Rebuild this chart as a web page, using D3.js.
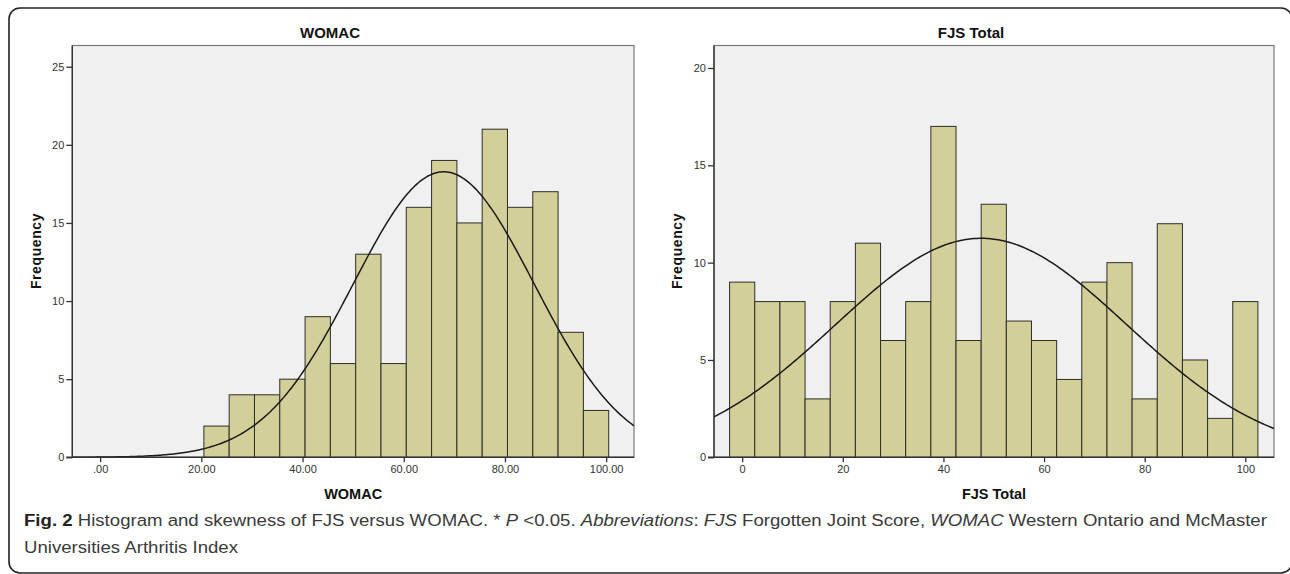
<!DOCTYPE html>
<html><head><meta charset="utf-8">
<script src="https://cdn.jsdelivr.net/npm/d3@7"></script>
<style>body{margin:0;background:#fff;} svg{display:block}</style>
</head><body>
<svg id="c" width="1290" height="574"></svg>
<script>
// ---- data ----
const womacCenters = [23,28,33,38,43,48,53,58,63,68,73,78,83,88,93,98];
const womacCounts  = [2,4,4,5,9,6,13,6,16,19,15,21,16,17,8,3];
const womacFit = {mean: 67.9, sd: 17.9, n: 164};
const womacXTicks = [0,20,40,60,80,100];
const womacXLabels = [".00","20.00","40.00","60.00","80.00","100.00"];
const womacYTicks = [0,5,10,15,20,25];

const fjsCenters = [0,5,10,15,20,25,30,35,40,45,50,55,60,65,70,75,80,85,90,95,100];
const fjsCounts  = [9,8,8,3,8,11,6,8,17,6,13,7,6,4,9,10,3,12,5,2,8];
const fjsFit = {mean: 47.5, sd: 28.9, n: 163};
const fjsXTicks = [0,20,40,60,80,100];
const fjsXLabels = ["0","20","40","60","80","100"];
const fjsYTicks = [0,5,10,15,20];

const binWidth = 5;

const svg = d3.select("#c");
const FONT = "'Liberation Sans', Arial, sans-serif";

// outer frame (right edge runs off the picture)
svg.append("rect").attr("x",9).attr("y",8).attr("width",1283).attr("height",565)
  .attr("rx",11).attr("fill","none").attr("stroke","#222").attr("stroke-width",1.6);

function panel(cfg){
  const x = d3.scaleLinear().domain(cfg.xDomain).range(cfg.xRange);
  const y = d3.scaleLinear().domain([0, cfg.yRef]).range([457.3, cfg.yRefPx]);
  const top = 45.5, bottom = 457.3;
  const left = cfg.xRange[0], right = cfg.xRange[1];
  const g = svg.append("g");
  const clipId = "clip" + cfg.id;
  svg.append("clipPath").attr("id", clipId).append("rect")
    .attr("x", left).attr("y", top).attr("width", right-left).attr("height", bottom-top);

  g.append("rect").attr("x",left).attr("y",top).attr("width",right-left).attr("height",bottom-top)
    .attr("fill","#f0f0f0").attr("stroke","#7a7a7a").attr("stroke-width",1.2);

  g.selectAll("rect.bar").data(cfg.centers).join("rect").attr("class","bar")
    .attr("x", d => x(d - binWidth/2))
    .attr("width", d => x(d + binWidth/2) - x(d - binWidth/2))
    .attr("y", (d,i) => y(cfg.counts[i]))
    .attr("height", (d,i) => y(0) - y(cfg.counts[i]))
    .attr("fill","#d3cf98").attr("stroke","#2e2e2a").attr("stroke-width",1);

  // fitted normal curve from the fit parameters
  const f = cfg.fit;
  const xs = d3.range(0, 301).map(i => cfg.xDomain[0] + (cfg.xDomain[1]-cfg.xDomain[0]) * i/300);
  const dens = xv => f.n * binWidth / (f.sd * Math.sqrt(2*Math.PI)) * Math.exp(-0.5*((xv-f.mean)/f.sd)**2);
  g.append("path").attr("clip-path", `url(#${clipId})`)
    .attr("d", d3.line().x(d => x(d)).y(d => y(dens(d)))(xs))
    .attr("fill","none").attr("stroke","#1a1a1a").attr("stroke-width",1.5);

  // axes
  const ya = d3.axisLeft(y).tickValues(cfg.yTicks).tickSize(6).tickPadding(2).tickFormat(d3.format("d"));
  const yg = g.append("g").attr("transform",`translate(${left},0)`).call(ya);
  const xa = d3.axisBottom(x).tickValues(cfg.xTicks).tickSize(5).tickPadding(3).tickFormat((d,i)=>cfg.xLabels[i]);
  const xg = g.append("g").attr("transform",`translate(0,${bottom})`).call(xa);
  [yg,xg].forEach(a => {
    a.select(".domain").remove();
    a.selectAll("line").attr("stroke","#333").attr("stroke-width",1.3);
    a.selectAll("text").attr("fill","#333").style("font-family",FONT).style("font-size","11px");
  });
  g.append("line").attr("x1",left-6).attr("x2",right).attr("y1",bottom).attr("y2",bottom)
    .attr("stroke","#333").attr("stroke-width",1.4);
  g.append("line").attr("x1",left).attr("x2",left).attr("y1",top).attr("y2",bottom)
    .attr("stroke","#333").attr("stroke-width",1.4);

  g.append("text").attr("x",cfg.titleX).attr("y",38).attr("text-anchor","middle")
    .style("font-family",FONT).style("font-weight","bold").style("font-size","15px").attr("fill","#111")
    .text(cfg.title);
  g.append("text").attr("x",(left+right)/2).attr("y",499).attr("text-anchor","middle")
    .style("font-family",FONT).style("font-weight","bold").style("font-size","14.5px").attr("fill","#111")
    .text(cfg.xTitle);
  g.append("text").attr("transform",`translate(${cfg.yTitleX},251) rotate(-90)`).attr("text-anchor","middle")
    .style("font-family",FONT).style("font-weight","bold").style("font-size","14px").attr("fill","#111")
    .style("letter-spacing","0.6px")
    .text("Frequency");
}

panel({id:"a", centers:womacCenters, counts:womacCounts, fit:womacFit,
  xDomain:[-5.5,105.5], xRange:[72.3,634], yRef:25, yRefPx:66.7,
  xTicks:womacXTicks, xLabels:womacXLabels, yTicks:womacYTicks,
  title:"WOMAC", titleX:330, xTitle:"WOMAC", yTitleX:41});
panel({id:"b", centers:fjsCenters, counts:fjsCounts, fit:fjsFit,
  xDomain:[-5.6,105.7], xRange:[714,1274], yRef:20, yRefPx:68,
  xTicks:fjsXTicks, xLabels:fjsXLabels, yTicks:fjsYTicks,
  title:"FJS Total", titleX:971, xTitle:"FJS Total", yTitleX:682});

// caption (condensed by horizontal scaling to the reference line width)
const CAP = "'Liberation Sans', Arial, sans-serif";
const line1 = [
  {t:"Fig. 2", w:"bold"},
  {t:" Histogram and skewness of FJS versus WOMAC. * "},
  {t:"P", i:true},
  {t:" <0.05. "},
  {t:"Abbreviations", i:true},
  {t:": "},
  {t:"FJS", i:true},
  {t:" Forgotten Joint Score, "},
  {t:"WOMAC", i:true},
  {t:" Western Ontario and McMaster"}
];
const line2 = [{t:"Universities Arthritis Index"}];
function capLine(parts, y){
  const t = svg.append("text").attr("x",0).attr("y",0)
    .style("font-family",CAP).style("font-size","17px").attr("fill","#333");
  parts.forEach(s => t.append("tspan").text(s.t)
    .style("font-weight", s.w || "normal").style("font-style", s.i ? "italic" : "normal")
    .attr("fill", s.w ? "#222" : "#3a3a3a"));
  return t;
}
const c1 = capLine(line1, 526), c2 = capLine(line2, 553);
const sx = 1244 / c1.node().getComputedTextLength();
c1.attr("transform", `translate(24,526) scale(${sx},1)`);
c2.attr("transform", `translate(24,553) scale(${sx},1)`);
</script>
</body></html>
